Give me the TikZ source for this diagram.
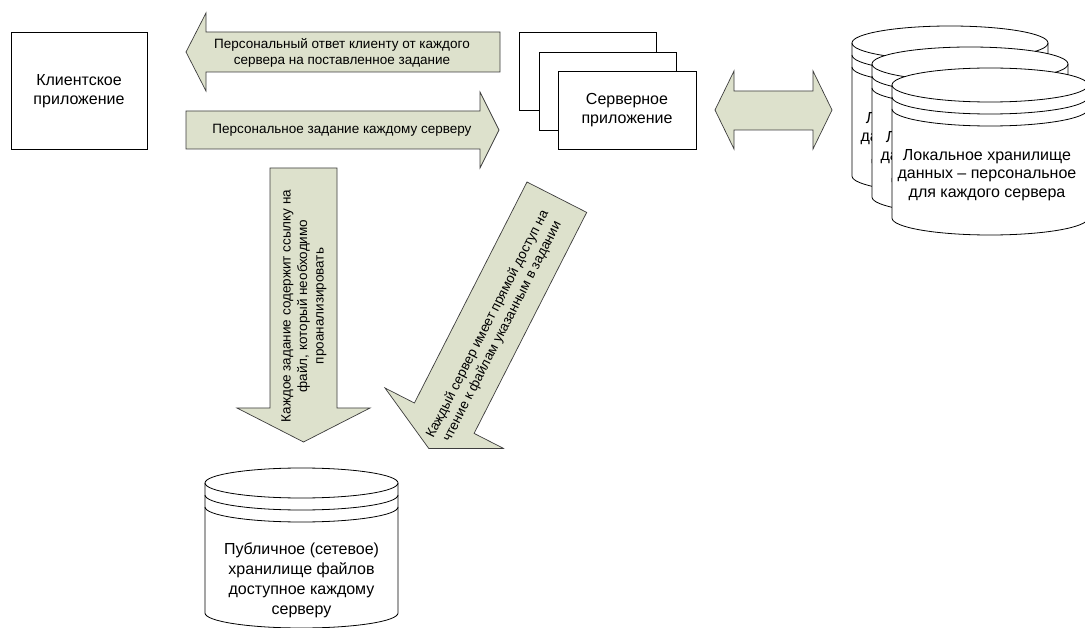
\documentclass[tikz,border=0pt]{standalone}
\usepackage{fontspec}
\setmainfont{Liberation Sans}
\definecolor{arrowfill}{RGB}{221,225,204}
\definecolor{arrowline}{RGB}{60,60,60}
\tikzset{
  boxshape/.style={draw=black, line width=0.8pt, fill=white},
  blockarrow/.style={draw=arrowline, line width=0.7pt, fill=arrowfill, line join=miter},
  bigtext/.style={font=\fontsize{16}{19}\selectfont, align=center, inner sep=0pt},
  cyltext/.style={font=\fontsize{16}{18.5}\selectfont, align=center, inner sep=0pt},
  smalltext/.style={font=\fontsize{13.5}{16.5}\selectfont, align=center, inner sep=0pt},
  cylline/.style={draw=black, line width=0.8pt},
}
% #1 cx, #2 top-ellipse centre y, #3 bottom centre y, #4 rx, #5 ry, #6 band gap
\newcommand{\dbcyl}[6]{%
  \fill[white] (#1-#4,#2) -- (#1-#4,#3)
     arc[start angle=180,end angle=360,x radius=#4pt,y radius=#5pt]
     -- (#1+#4,#2)
     arc[start angle=0,end angle=180,x radius=#4pt,y radius=#5pt] -- cycle;
  \draw[cylline] (#1-#4,#2) -- (#1-#4,#3)
     arc[start angle=180,end angle=360,x radius=#4pt,y radius=#5pt]
     -- (#1+#4,#2);
  \draw[cylline] (#1,#2) ellipse[x radius=#4pt,y radius=#5pt];
  \draw[cylline] (#1-#4,#2+#6)
     arc[start angle=180,end angle=360,x radius=#4pt,y radius=#5pt];
  \draw[cylline] (#1-#4,#2+2*#6)
     arc[start angle=180,end angle=360,x radius=#4pt,y radius=#5pt];
}
\begin{document}
\begin{tikzpicture}[x=1pt,y=-1pt]
\clip (0,0) rectangle (1085,628);
\fill[white] (0,0) rectangle (1085,628);

% client application
\draw[boxshape] (11,32) rectangle (147,149);
\node[bigtext] (client) at (79,91) {Клиентское\\приложение};

% server applications (stack)
\draw[boxshape] (519,32) rectangle (656,110);
\draw[boxshape] (539,52) rectangle (676,130);
\draw[boxshape] (558,71) rectangle (696,149);
\node[bigtext] (server) at (627,110) {Серверное\\приложение};

% response arrow (to the left)
\draw[blockarrow] (186,52) -- (206,13) -- (206,32) -- (500,32) -- (500,72)
   -- (206,72) -- (206,91) -- cycle;
\node[smalltext] (resp) at (342,53) {Персональный ответ клиенту от каждого\\сервера на поставленное задание};

% task arrow (to the right)
\draw[blockarrow] (186,111) -- (480,111) -- (480,92) -- (499,130) -- (480,168)
   -- (480,149) -- (186,149) -- cycle;
\node[smalltext] (task) at (342,130) {Персональное задание каждому серверу};

% double arrow
\draw[blockarrow] (715,110) -- (734,71) -- (734,91) -- (813,91) -- (813,71)
   -- (832,110) -- (813,149) -- (813,130) -- (734,130) -- (734,149) -- cycle;

% vertical arrow
\draw[blockarrow] (270,168) -- (337,168) -- (337,408) -- (370,408) -- (303.5,442)
   -- (237,408) -- (270,408) -- cycle;
\node[smalltext, rotate=90] (ref) at (304,306) {Каждое задание содержит ссылку на\\файл, который необходимо\\проанализировать};

% diagonal arrow
\draw[blockarrow] (527,182) -- (586.7,212.4) -- (474.1,433.4) -- (503.5,448.4)
   -- (428.8,448.5) -- (385.0,388.0) -- (414.4,403.0) -- cycle;
\node[smalltext, rotate=63] (direct) at (495,328) {Каждый сервер имеет прямой доступ на\\чтение к файлам указанным в задании};

% local storages
\dbcyl{950}{43}{176}{98}{17}{12}
\node[cyltext] (loc1) at (950,138) {Локальное хранилище\\данных – персональное\\для каждого сервера};
\dbcyl{970}{64}{197}{98}{17}{12}
\node[cyltext] (loc2) at (970,157) {Локальное хранилище\\данных – персональное\\для каждого сервера};
\dbcyl{990}{85}{218}{98}{17}{12}
\node[cyltext] (loc3) at (987,175) {Локальное хранилище\\данных – персональное\\для каждого сервера};

% public storage
\dbcyl{301.5}{483}{613}{96.5}{15}{12}
\node[bigtext, font=\fontsize{16}{20}\selectfont] (pub) at (301.5,580) {Публичное (сетевое)\\хранилище файлов\\доступное каждому\\серверу};
\end{tikzpicture}
\end{document}
